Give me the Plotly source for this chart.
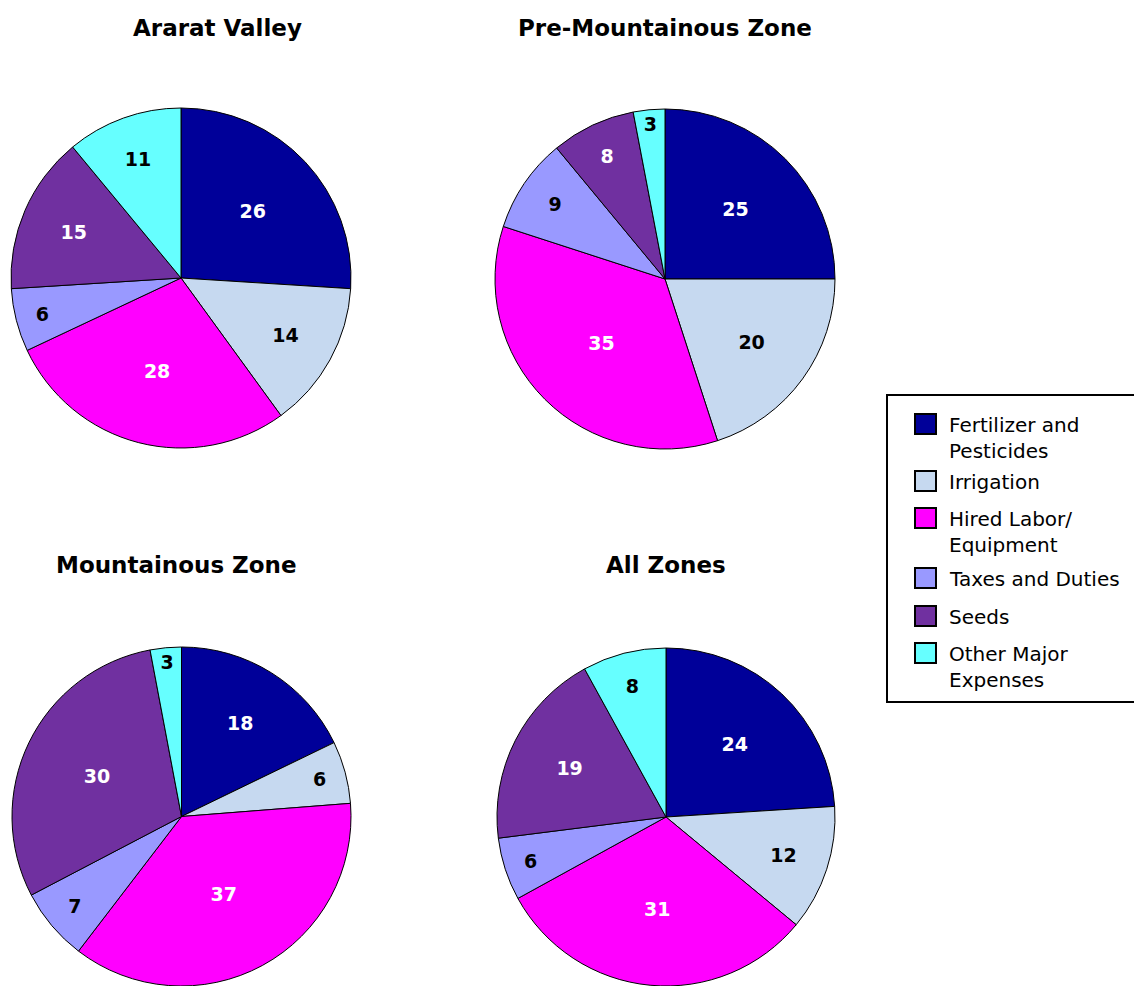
import plotly.graph_objects as go

categories = ["Fertilizer and Pesticides", "Irrigation", "Hired Labor/Equipment",
              "Taxes and Duties", "Seeds", "Other Major Expenses"]
legend_labels = ["Fertilizer and<br>Pesticides", "Irrigation", "Hired Labor/<br>Equipment",
                 "Taxes and Duties", "Seeds", "Other Major<br>Expenses"]
colors = ["#000099", "#C6D9F0", "#FF00FF", "#9999FF", "#7030A0", "#66FFFF"]
text_colors = ["white", "black", "white", "black", "white", "black"]

zones = ["Ararat Valley", "Pre-Mountainous Zone", "Mountainous Zone", "All Zones"]
ararat = [26, 14, 28, 6, 15, 11]
pre_mountain = [25, 20, 35, 9, 8, 3]
mountain = [18, 6, 37, 7, 30, 3]
all_zones = [24, 12, 31, 6, 19, 8]
values = [ararat, pre_mountain, mountain, all_zones]

W, H = 1134, 986
FONT = "DejaVu Sans"
# pie boxes in pixels (left, top, size)
boxes = [(11, 108, 340), (495, 109, 340), (12, 647, 339), (497, 648, 338)]
title_pos = [(217, 28), (665, 28), (176, 565), (666, 565)]

def px_x(v):
    return v / W

def px_y(v):
    return 1 - v / H

fig = go.Figure()
for i, (name, vals) in enumerate(zip(zones, values)):
    l, t, s = boxes[i]
    x0, x1 = l / W, (l + s) / W
    y1 = 1 - t / H
    y0 = max(0, 1 - (t + s) / H)
    fig.add_trace(go.Pie(
        labels=categories, values=vals, name=name,
        sort=False, direction="clockwise", rotation=0,
        marker=dict(colors=colors, line=dict(color="black", width=1)),
        textinfo="value", textposition="inside", insidetextorientation="horizontal",
        textfont=dict(family=FONT, size=19, color=text_colors, weight="bold"),
        domain=dict(x=[x0, x1], y=[y0, y1]),
        showlegend=False, hoverinfo="label+value",
    ))

for name, (px, py) in zip(zones, title_pos):
    fig.add_annotation(x=px_x(px), y=px_y(py), xref="paper", yref="paper",
                       text="<b>" + name + "</b>", showarrow=False,
                       font=dict(family=FONT, size=23, color="black"),
                       xanchor="center", yanchor="middle")

# legend box drawn manually to match the reference layout
shapes = [dict(type="rect", xref="paper", yref="paper",
               x0=px_x(887), x1=px_x(1150), y0=px_y(702), y1=px_y(395),
               line=dict(color="black", width=2), fillcolor="white", layer="below")]
sq_tops = [414, 471, 508, 568, 606, 643]
for lab, col, top in zip(legend_labels, colors, sq_tops):
    shapes.append(dict(type="rect", xref="paper", yref="paper",
                       x0=px_x(915), x1=px_x(936), y0=px_y(top + 20), y1=px_y(top),
                       line=dict(color="black", width=2), fillcolor=col))
    fig.add_annotation(x=px_x(947), y=px_y(top - 3), xref="paper", yref="paper",
                       text=lab, showarrow=False, align="left",
                       font=dict(family=FONT, size=20, color="black"),
                       xanchor="left", yanchor="top")
fig.update_layout(
    width=W, height=H, margin=dict(l=0, r=0, t=0, b=0),
    paper_bgcolor="white", plot_bgcolor="white", shapes=shapes,
)
fig.write_html("out.html")
